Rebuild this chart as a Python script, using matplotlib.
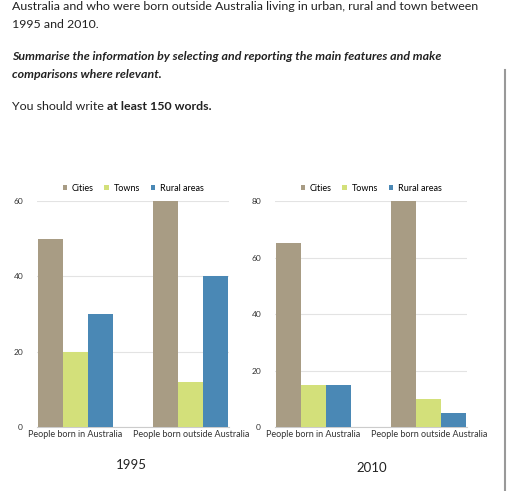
import matplotlib
matplotlib.use("Agg")
import matplotlib.pyplot as plt
import numpy as np

groups = ["People born in Australia", "People born outside Australia"]
series = ["Cities", "Towns", "Rural areas"]
vals_1995 = {"Cities": [50, 60], "Towns": [20, 12], "Rural areas": [30, 40]}
vals_2010 = {"Cities": [65, 80], "Towns": [15, 10], "Rural areas": [15, 5]}
colors = {"Cities": "#A89C84", "Towns": "#D3E07A", "Rural areas": "#4A88B5"}

plt.rcParams['font.family'] = ['Lato', 'DejaVu Sans']
W, H = 512, 491
fig = plt.figure(figsize=(W/100, H/100), dpi=100)
fig.patch.set_facecolor("white")

fs = 8.9
fig.text(12/W, 1-7/H, "Australia and who were born outside Australia living in urban, rural and town between",
         fontsize=fs, va="center", color="#222")
fig.text(12/W, 1-24/H, "1995 and 2010.", fontsize=fs, va="center", color="#222")
fig.text(12/W, 1-57/H, "Summarise the information by selecting and reporting the main features and make",
         fontsize=fs, va="center", style="italic", weight="bold", color="#222")
fig.text(12/W, 1-74/H, "comparisons where relevant.", fontsize=fs, va="center", style="italic", weight="bold", color="#222")
t = fig.text(12/W, 1-107/H, "You should write ", fontsize=fs, va="center", color="#222")
r = fig.canvas.get_renderer()
bb = t.get_window_extent(renderer=r)
fig.text(bb.x1/W, 1-107/H, "at least 150 words.", fontsize=fs, va="center", weight="bold", color="#222")
fig.add_artist(plt.Line2D([505/W, 505/W], [1-70/H, 1-491/H], color="#999", lw=1.5))

def panel(left, vals, ymax, yticks, year, yx, yy):
    ax = fig.add_axes([left/W, 1-427/H, 192/W, 226/H])
    x = np.arange(len(groups))
    bw = 0.216
    for i, s in enumerate(series):
        ax.bar(x + (i-1)*bw, vals[s], bw, color=colors[s], label=s, zorder=3, linewidth=0)
    ax.set_xlim(-0.33, 1.33)
    ax.set_ylim(0, ymax)
    ax.set_yticks(yticks)
    ax.set_xticks(x)
    ax.set_xticklabels(groups, fontsize=6.5, color="#333")
    ax.tick_params(axis="y", labelsize=6, colors="#333", length=0, pad=10)
    ax.tick_params(axis="x", length=0, pad=2)
    ax.grid(axis="y", color="#e3e3e3", lw=0.8, zorder=0)
    for sp in ["top", "right", "left"]:
        ax.spines[sp].set_visible(False)
    ax.spines["bottom"].set_color("#ccc")
    ax.legend(loc="lower center", bbox_to_anchor=(0.5, 1.0), ncol=3, frameon=False,
              fontsize=6.5, handlelength=0.5, handleheight=0.5, columnspacing=1.2, handletextpad=0.5)
    fig.text(yx/W, 1-yy/H, year, fontsize=9.5, ha="center", va="center", color="#222")

panel(37, vals_1995, 60, [0, 20, 40, 60], "1995", 131, 465)
panel(275, vals_2010, 80, [0, 20, 40, 60, 80], "2010", 372, 468)

fig.savefig("out.png", dpi=100)
